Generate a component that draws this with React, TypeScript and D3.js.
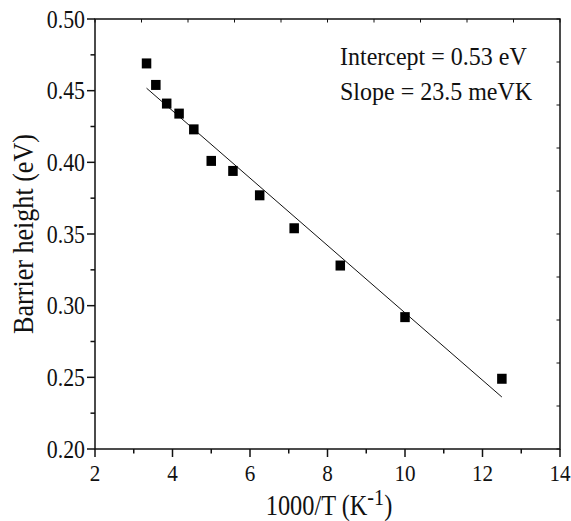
import React from 'react';
import * as d3 from 'd3';

// 1000/T (K^-1) for T = 300 ... 80 K
const xValues = [3.33, 3.57, 3.85, 4.17, 4.55, 5.0, 5.56, 6.25, 7.14, 8.33, 10.0, 12.5];
// Barrier height (eV)
const yValues = [0.469, 0.454, 0.441, 0.434, 0.423, 0.401, 0.394, 0.377, 0.354, 0.328, 0.292, 0.249];

const fitIntercept = 0.53;
const fitSlope = -0.0235;
const fitRange = [3.33, 12.5];

const xMajorTicks = [2, 4, 6, 8, 10, 12, 14];
const xMinorTicks = [3, 5, 7, 9, 11, 13];
const yMajorTicks = [0.2, 0.25, 0.3, 0.35, 0.4, 0.45, 0.5];
const yMinorTicks = [0.225, 0.275, 0.325, 0.375, 0.425, 0.475];
const frameTicks = [0, 1, 2, 3, 4, 5, 6, 7, 8, 9, 10];

const annotations = ['Intercept = 0.53 eV', 'Slope = 23.5 meVK'];

const W = 571;
const H = 521;
const L = 95;
const R = 560;
const T = 19;
const B = 449;
const FONT = 'Liberation Serif, DejaVu Serif, serif';
const INK = '#111';

export default function App() {
  const x = d3.scaleLinear().domain([2, 14]).range([L, R]);
  const y = d3.scaleLinear().domain([0.2, 0.5]).range([B, T]);
  const topS = d3.scaleLinear().domain([0, 10]).range([L, R]);
  const rightS = d3.scaleLinear().domain([0, 10]).range([B, T]);

  const fitLine = d3
    .line<number>()
    .x((d) => x(d))
    .y((d) => y(fitIntercept + fitSlope * d));

  const sqW = 9.5;
  const sqH = 10;
  const ts = { fontFamily: FONT };

  return (
    <svg
      width={W}
      height={H}
      viewBox={`0 0 ${W} ${H}`}
      style={{ position: 'absolute', left: 0, top: 0, background: '#fff' }}
    >
      <rect x={0} y={0} width={W} height={H} fill="#fff" />
      {/* frame */}
      <rect x={L} y={T} width={R - L} height={B - T} fill="none" stroke={INK} strokeWidth={1.5} />

      {/* bottom ticks */}
      {xMajorTicks.map((t) => (
        <line key={'xM' + t} x1={x(t)} x2={x(t)} y1={B} y2={B + 8} stroke={INK} strokeWidth={1.5} />
      ))}
      {xMinorTicks.map((t) => (
        <line key={'xm' + t} x1={x(t)} x2={x(t)} y1={B} y2={B + 4.5} stroke={INK} strokeWidth={1.5} />
      ))}
      {/* left ticks */}
      {yMajorTicks.map((t) => (
        <line key={'yM' + t} x1={L - 8} x2={L} y1={y(t)} y2={y(t)} stroke={INK} strokeWidth={1.5} />
      ))}
      {yMinorTicks.map((t) => (
        <line key={'ym' + t} x1={L - 4.5} x2={L} y1={y(t)} y2={y(t)} stroke={INK} strokeWidth={1.5} />
      ))}
      {/* top and right ticks */}
      {frameTicks.map((t) => (
        <line key={'tt' + t} x1={topS(t)} x2={topS(t)} y1={T} y2={T + 3.5} stroke={INK} strokeWidth={1} />
      ))}
      {frameTicks.map((t) => (
        <line key={'rt' + t} x1={R - 3.5} x2={R} y1={rightS(t)} y2={rightS(t)} stroke={INK} strokeWidth={1} />
      ))}

      {/* tick labels */}
      {xMajorTicks.map((t) => (
        <text
          key={'xl' + t}
          transform={`translate(${x(t)},481) scale(0.88,1)`}
          textAnchor="middle"
          style={ts}
          fontSize={24}
          fill={INK}
        >
          {t}
        </text>
      ))}
      {yMajorTicks.map((t) => (
        <text
          key={'yl' + t}
          transform={`translate(85,${y(t) + 8.5}) scale(0.875,1)`}
          textAnchor="end"
          style={ts}
          fontSize={25}
          fill={INK}
        >
          {t.toFixed(2)}
        </text>
      ))}

      {/* axis titles */}
      <text
        transform={`translate(329,515) scale(0.84,1)`}
        textAnchor="middle"
        style={ts}
        fontSize={29}
        fill={INK}
      >
        1000/T (K
        <tspan fontSize={24} dy={-10}>-1</tspan>
        <tspan dy={10}>)</tspan>
      </text>
      <text
        transform={`translate(33,234) rotate(-90) scale(0.9,1)`}
        textAnchor="middle"
        style={ts}
        fontSize={29}
        fill={INK}
      >
        Barrier height (eV)
      </text>

      {/* annotations */}
      {annotations.map((a, i) => (
        <text
          key={'an' + i}
          transform={`translate(340,${65 + i * 34.5}) scale(0.96,1)`}
          style={ts}
          fontSize={25}
          fill={INK}
        >
          {a}
        </text>
      ))}

      {/* fit line */}
      <path d={fitLine(fitRange) || ''} fill="none" stroke={INK} strokeWidth={1} />

      {/* data points */}
      {xValues.map((xv, i) => (
        <rect
          key={'p' + i}
          x={x(xv) - sqW / 2}
          y={y(yValues[i]) - sqH / 2}
          width={sqW}
          height={sqH}
          fill="#000"
        />
      ))}
    </svg>
  );
}
